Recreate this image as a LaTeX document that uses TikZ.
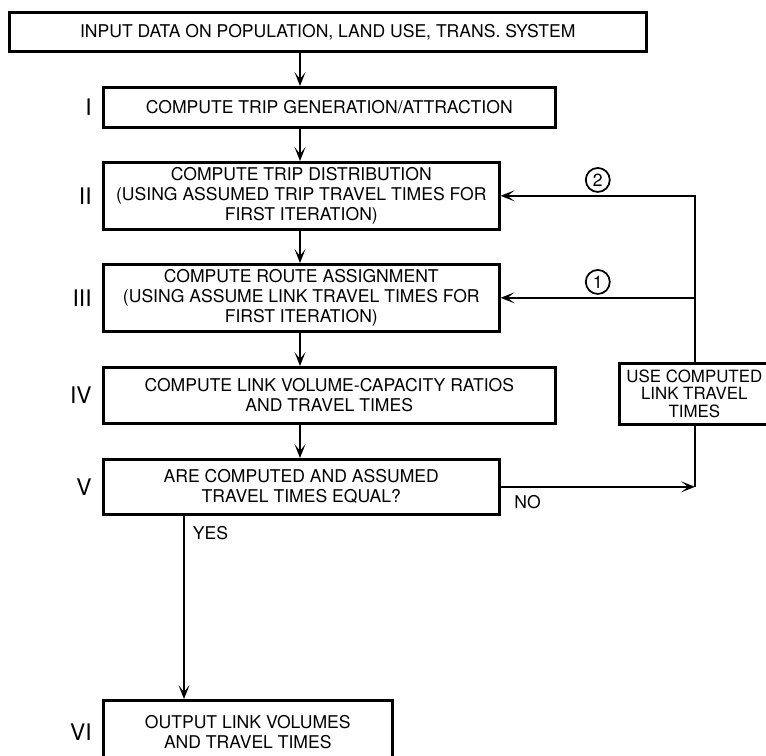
\documentclass[tikz,border=0pt]{standalone}
\usepackage{fontspec}
\setmainfont{TeX Gyre Heros}
\usetikzlibrary{positioning, arrows.meta}

\begin{document}
\begin{tikzpicture}[
      x=0.02cm, y=-0.02cm,
      box/.style={draw, line width=1.5pt, align=center, anchor=north west, inner sep=2pt,
        font=\fontsize{10}{11.3}\selectfont},
      num/.style={inner sep=0pt, xshift=-0.2cm, font=\fontsize{13}{13}\selectfont},
      tag/.style={draw, circle, line width=1pt, inner sep=0pt, minimum size=0.48cm,
        font=\fontsize{10}{10}\selectfont},
      txt/.style={inner sep=0pt, font=\fontsize{10}{11.3}\selectfont},
      arr/.style={-{Stealth[length=2.8mm, width=2.2mm, inset=1.4mm]}, line width=1pt}
    ]
    \useasboundingbox (0,0) rectangle (766,755);
    \clip (0,0) rectangle (766,755);

    \node[box, minimum width=12.74cm, minimum height=0.78cm] (inp) at (8,11)
      {INPUT DATA ON POPULATION, LAND USE, TRANS. SYSTEM};
    \node[box, minimum width=9.04cm, minimum height=0.8cm, label={[num]left:I}] (gen) at (102,86)
      {COMPUTE TRIP GENERATION/ATTRACTION};
    \node[box, minimum width=7.92cm, minimum height=1.34cm, label={[num]left:II}] (dist) at (102,161)
      {COMPUTE TRIP DISTRIBUTION\\(USING ASSUMED TRIP TRAVEL TIMES FOR\\FIRST ITERATION)};
    \node[box, minimum width=7.92cm, minimum height=1.34cm, label={[num]left:III}] (asg) at (102,263)
      {COMPUTE ROUTE ASSIGNMENT\\(USING ASSUME LINK TRAVEL TIMES FOR\\FIRST ITERATION)};
    \node[box, minimum width=9.04cm, minimum height=1.12cm, label={[num]left:IV}] (vcr) at (102,366)
      {COMPUTE LINK VOLUME-CAPACITY RATIOS\\AND TRAVEL TIMES};
    \node[box, minimum width=7.92cm, minimum height=1.1cm, label={[num]left:V}] (cmp) at (102,458)
      {ARE COMPUTED AND ASSUMED\\TRAVEL TIMES EQUAL?};
    \node[box, minimum width=5.78cm, minimum height=1.26cm, label={[num]left:VI}] (outp) at (102,699)
      {OUTPUT LINK VOLUMES\\AND TRAVEL TIMES};
    \node[box, minimum width=3cm, minimum height=1.22cm, font=\fontsize{9.6}{9.8}\selectfont] (use) at (618,362)
      {USE COMPUTED\\LINK TRAVEL\\TIMES};

    \coordinate (spine) at (300,0);
    \coordinate (yes) at (184,0);
    \coordinate (fbk) at (695,0);

    \foreach \a/\b in {inp/gen, gen/dist, dist/asg, asg/vcr, vcr/cmp}
      \draw[arr] (\a.south -| spine) -- (\b.north -| spine);
    \draw[arr] (cmp.south -| yes) -- node[txt, pos=0, anchor=north west, xshift=0.16cm, yshift=-0.2cm]{YES} (outp.north -| yes);

    \draw[arr] (cmp.east) -- node[txt, pos=0, anchor=north west, xshift=0.26cm, yshift=-0.16cm]{NO} (fbk |- cmp.east);
    \draw[line width=1pt] (fbk |- cmp.east) -- (use.south -| fbk);
    \draw[arr] (use.north -| fbk) |- node[tag, pos=0.75, above=0.06cm]{2} (dist.east);
    \draw[arr] (fbk |- asg.east) -- node[tag, midway, above=0.06cm]{1} (asg.east);
  \end{tikzpicture}
\end{document}
